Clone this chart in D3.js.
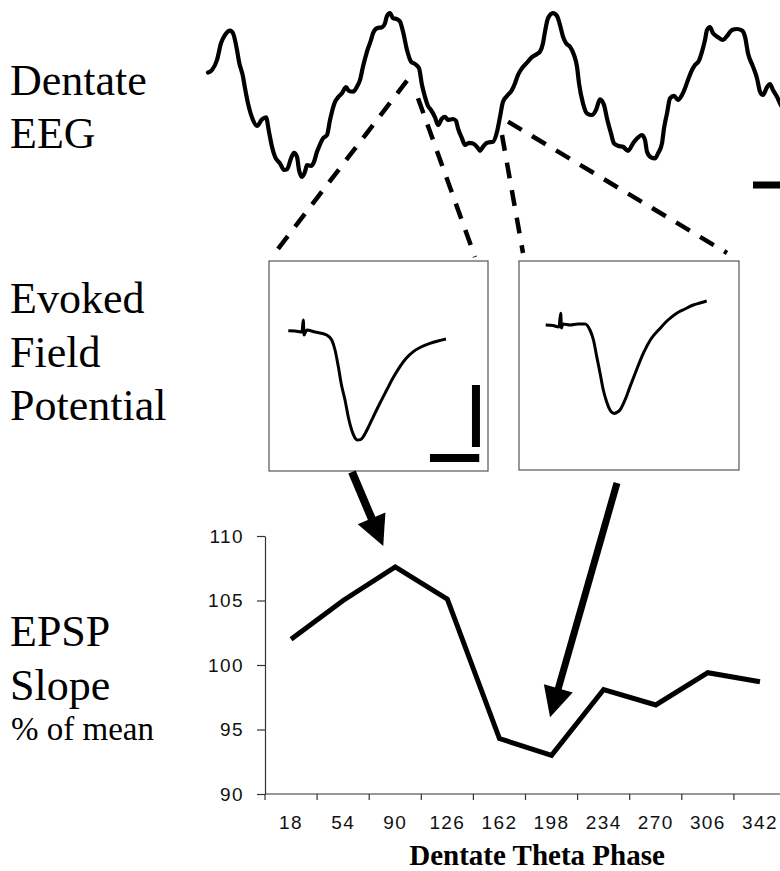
<!DOCTYPE html>
<html><head><meta charset="utf-8">
<script src="https://cdn.jsdelivr.net/npm/d3@7"></script>
<style>body{margin:0;background:#fff} svg{display:block}</style>
</head><body><div id="chart"></div>
<script>
// ---- data ----
const phases = ["18","54","90","126","162","198","234","270","306","342"];
const epspSlope = [102.0,105.0,107.6,105.1,94.3,93.0,98.1,96.9,99.4,98.7];
const yTicks = [90,95,100,105,110];

// dentate EEG trace (ms, µV)
const eegTime = [0,4,9,13,17,22,25,29,31,35,37,40,45,49,54,58,61,64,67,72,76,79,83,86,89,91,94,97,99,103,106,109,111,115,119,122,127,130,134,138,141,145,149,152,155,159,163,165,169,174,177,179,182,185,189,192,195,199,203,207,211,214,217,220,223,227,230,234,237,240,245,248,250,254,257,261,265,269,272,275,279,281,285,289,292,295,299,304,307,310,314,319,324,329,332,335,337,340,345,349,352,355,358,362,366,369,371,375,379,384,388,392,396,399,403,406,410,415,420,425,429,434,437,439,443,447,450,454,456,459,462,466,470,474,477,481,484,487,491,494,497,499,502,505,510,515,519,524,529,534,537,540,545,549,552,555,559,562,565,569,572,577];
const eegVolt = [112,125,175,259,300,322,309,225,167,92,34,-42,-125,-155,-122,-112,-184,-259,-309,-342,-375,-372,-317,-289,-309,-375,-409,-384,-350,-354,-334,-284,-259,-217,-200,-125,-34,-12,9,39,20,17,42,75,142,217,275,309,334,339,359,395,409,384,379,367,317,225,167,155,134,50,-9,-55,-75,-112,-150,-117,-109,-125,-120,-129,-167,-217,-250,-239,-242,-259,-279,-259,-239,-237,-234,-184,-109,-34,-5,25,59,100,134,162,189,205,217,259,317,384,409,395,350,292,259,242,200,142,59,-42,-92,-100,-75,-22,-50,-117,-192,-242,-254,-259,-279,-242,-217,-200,-225,-284,-312,-317,-292,-242,-167,-92,-17,-4,-25,0,34,89,125,150,172,217,275,325,339,309,289,275,295,325,330,322,292,209,142,84,17,0,39,55,25,-9,-42,-85];

// evoked field potentials (ms, mV)
const fp1Time = [1.76,2.37,3.01,3.13,3.20,3.44,4.2,5.27,5.73,6.03,6.33,6.62,6.94,7.26,7.55,7.81,8.06,8.36,8.61,9.04,9.53,10.14,10.75,11.32,11.96,12.51,13.18,13.88,14.7,15.43,16.16];
const fp1Volt = [-0.04,-0.05,-0.1,0.5,-0.25,0,-0.1,-0.25,-0.5,-1.0,-1.83,-2.75,-3.5,-4.4,-5.0,-5.35,-5.5,-5.48,-5.33,-4.9,-4.33,-3.65,-3.0,-2.4,-1.83,-1.43,-1.08,-0.85,-0.67,-0.55,-0.45];
const fp2Time = [2.44,3.11,3.65,3.81,3.88,4.02,4.66,5.39,6.03,6.48,6.8,7.1,7.4,7.7,8.01,8.31,8.68,8.95,9.22,9.68,10.14,10.73,11.35,12.05,12.88,13.61,14.4,15.16,15.92,16.53,17.14];
const fp2Volt = [0.25,0.22,0.15,0.84,0.1,0.3,0.25,0.3,0.3,0,-0.5,-1.33,-2.15,-3.0,-3.6,-4.0,-4.17,-4.12,-4.0,-3.5,-2.83,-2.0,-1.17,-0.45,0.08,0.5,0.84,1.05,1.25,1.35,1.45];

const rowLabels = [["Dentate","EEG"],["Evoked","Field","Potential"],["EPSP","Slope"]];
const subLabel = "% of mean";
const xTitle = "Dentate Theta Phase";

// ---- layout ----
const W = 780, H = 871;
const svg = d3.select("#chart").append("svg").attr("width", W).attr("height", H);
const serif = "'Liberation Serif','Times New Roman',Times,serif";
const sans = "'Liberation Sans',Arial,Helvetica,sans-serif";

// row labels
const rowBase = [[95,148],[313,367,420],[646,700]];
rowLabels.forEach((lines, r) => {
  lines.forEach((t, i) => {
    svg.append("text").attr("x", 10).attr("y", rowBase[r][i])
      .attr("font-family", serif).attr("font-size", 44).attr("fill", "#000").text(t);
  });
});
svg.append("text").attr("x", 11).attr("y", 740).attr("font-family", serif)
  .attr("font-size", 33).attr("fill", "#000").text(subLabel);

// ---- EEG ----
const xE = d3.scaleLinear().domain([0, 572]).range([208, 780]);
const yE = d3.scaleLinear().domain([-500, 500]).range([195, -5]);
const eegLine = d3.line().x(i => xE(eegTime[i])).y(i => yE(eegVolt[i])).curve(d3.curveMonotoneX);
svg.append("path").attr("d", eegLine(d3.range(eegTime.length)))
  .attr("fill", "none").attr("stroke", "#000").attr("stroke-width", 4.2)
  .attr("stroke-linejoin", "round").attr("stroke-linecap", "round");
// time scale bar
svg.append("line").attr("x1", xE(545)).attr("x2", xE(600)).attr("y1", yE(-450)).attr("y2", yE(-450))
  .attr("stroke", "#000").attr("stroke-width", 7);

// ---- insets ----
const insets = [{x:269, y:261, w:219, h:210}, {x:519, y:261, w:220, h:209}];
const traces = [[fp1Time, fp1Volt], [fp2Time, fp2Volt]];
insets.forEach((b, k) => {
  svg.append("rect").attr("x", b.x).attr("y", b.y).attr("width", b.w).attr("height", b.h)
    .attr("fill", "none").attr("stroke", "#555").attr("stroke-width", 1.2);
  const fx = d3.scaleLinear().domain([0, 20]).range([b.x, b.x + 219]);
  const fy = d3.scaleLinear().domain([-7, 3.5]).range([b.y + 209, b.y - 1]);
  const [tt, vv] = traces[k];
  const ln = d3.line().x(i => fx(tt[i])).y(i => fy(vv[i])).curve(d3.curveMonotoneX);
  svg.append("path").attr("d", ln(d3.range(tt.length))).attr("fill", "none")
    .attr("stroke", "#000").attr("stroke-width", 3).attr("stroke-linejoin", "round");
  if (k === 0) {
    svg.append("line").attr("x1", fx(18.9)).attr("x2", fx(18.9)).attr("y1", fy(-2.75)).attr("y2", fy(-5.85))
      .attr("stroke", "#000").attr("stroke-width", 8);
    svg.append("line").attr("x1", fx(14.7)).attr("x2", fx(19.2)).attr("y1", fy(-6.4)).attr("y2", fy(-6.4))
      .attr("stroke", "#000").attr("stroke-width", 8);
  }
});

// dashed connectors: EEG point -> inset corners
const connectors = [
  {t:199, v:72,  ix:0, dx:9,   dy:-12},
  {t:210, v:-16, ix:0, dx:206, dy:-4},
  {t:294, v:-200,ix:1, dx:4,   dy:-8},
  {t:300, v:-133,ix:1, dx:208, dy:-8}
];
connectors.forEach(c => {
  const b = insets[c.ix];
  svg.append("line").attr("x1", xE(c.t)).attr("y1", yE(c.v))
    .attr("x2", b.x + c.dx).attr("y2", b.y + c.dy)
    .attr("stroke", "#000").attr("stroke-width", 4.5).attr("stroke-dasharray", "16,12");
});

// ---- EPSP chart ----
const x = d3.scaleBand().domain(phases).range([265, 786]).padding(0);
const y = d3.scaleLinear().domain([90, 110]).range([794, 536]);

const yAx = svg.append("g").attr("transform", "translate(265,0)")
  .call(d3.axisLeft(y).tickValues(yTicks).tickSize(8).tickSizeOuter(0).tickPadding(13).tickFormat(d3.format("d")));
yAx.selectAll("path,line").attr("stroke", "#333").attr("stroke-width", 1.2);
yAx.selectAll("text").attr("font-family", sans).attr("font-size", 19).attr("fill", "#111")
  .attr("letter-spacing", 1.4);

const xAx = svg.append("g").attr("transform", "translate(0,794)")
  .call(d3.axisBottom(x).tickSize(0).tickPadding(22));
xAx.select(".domain").remove();
xAx.selectAll("text").attr("font-family", sans).attr("font-size", 19).attr("fill", "#111")
  .attr("letter-spacing", 1.4);
svg.append("line").attr("x1", 265).attr("x2", W).attr("y1", 794).attr("y2", 794)
  .attr("stroke", "#333").attr("stroke-width", 1.2);
svg.append("g").selectAll("line").data(phases).join("line")
  .attr("x1", d => x(d)).attr("x2", d => x(d)).attr("y1", 794).attr("y2", 800)
  .attr("stroke", "#333").attr("stroke-width", 1.2);

const cx = (d) => x(d) + x.bandwidth() / 2;
svg.append("path").datum(epspSlope)
  .attr("d", d3.line().x((d, i) => cx(phases[i])).y(d => y(d)))
  .attr("fill", "none").attr("stroke", "#000").attr("stroke-width", 5)
  .attr("stroke-linejoin", "miter");

svg.append("text").attr("x", 537).attr("y", 865).attr("text-anchor", "middle")
  .attr("font-family", serif).attr("font-weight", "bold").attr("font-size", 29).attr("fill", "#000")
  .text(xTitle);

// ---- arrows from insets to chart ----
function arrow(x0, y0, x1, y1, w) {
  const dx = x1 - x0, dy = y1 - y0, L = Math.hypot(dx, dy);
  const ux = dx / L, uy = dy / L, px = -uy, py = ux;
  const hl = 30, hw = 15;
  const bx = x1 - ux * hl, by = y1 - uy * hl;
  svg.append("line").attr("x1", x0).attr("y1", y0).attr("x2", bx + ux * 2).attr("y2", by + uy * 2)
    .attr("stroke", "#000").attr("stroke-width", w);
  svg.append("path").attr("d", `M${x1},${y1}L${bx + px * hw},${by + py * hw}L${bx - px * hw},${by - py * hw}Z`)
    .attr("fill", "#000");
}
arrow(insets[0].x + 83, insets[0].y + insets[0].h + 1, cx("90") - 12, y(epspSlope[2]) - 21, 8);
arrow(insets[1].x + 98, insets[1].y + insets[1].h + 13, cx("198") - 1.5, y(epspSlope[5]) - 38, 7);
</script>
</body></html>
